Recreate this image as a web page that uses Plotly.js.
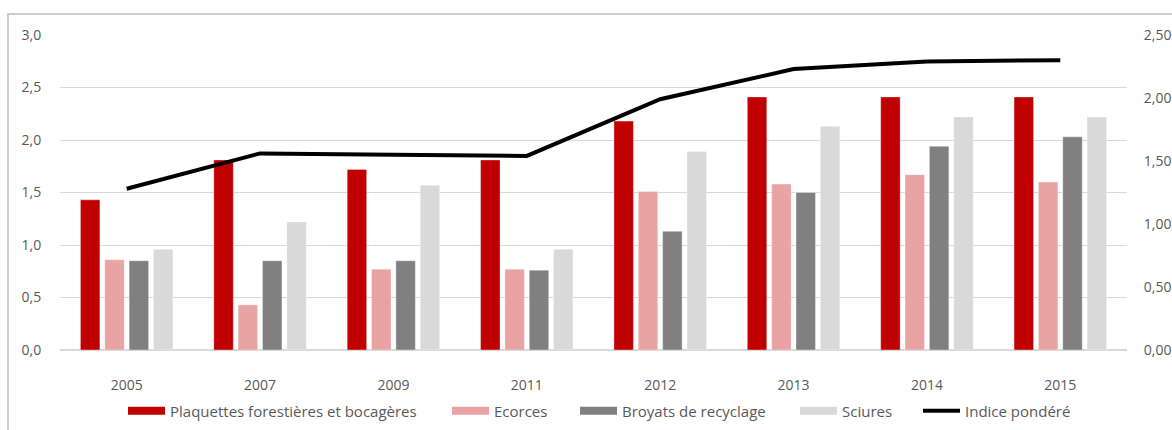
<!DOCTYPE html>
<html>
<head>
<meta charset="utf-8">
<script src="https://cdn.plot.ly/plotly-3.0.1.min.js"></script>
<style>html,body{margin:0;padding:0;background:#fff;}#chart{width:1172px;height:430px;}</style>
</head>
<body>
<div id="chart"></div>
<script>
const years = ["2005", "2007", "2009", "2011", "2012", "2013", "2014", "2015"];
const plaquettes = [1.43, 1.81, 1.72, 1.81, 2.18, 2.41, 2.41, 2.41];
const ecorces = [0.86, 0.43, 0.77, 0.77, 1.51, 1.58, 1.67, 1.60];
const broyats = [0.85, 0.85, 0.85, 0.76, 1.13, 1.50, 1.94, 2.03];
const sciures = [0.96, 1.22, 1.57, 0.96, 1.89, 2.13, 2.22, 2.22];
const indice = [1.28, 1.56, 1.55, 1.54, 1.99, 2.23, 2.29, 2.30];

const names = ["Plaquettes forestières et bocagères", "Ecorces", "Broyats de recyclage", "Sciures", "Indice pondéré"];
const colors = ["#c00000", "#e8a3a2", "#808080", "#d9d9d9", "#000000"];
const barSeries = [plaquettes, ecorces, broyats, sciures];

const traces = [];
barSeries.forEach((vals, i) => {
  traces.push({
    type: "bar", x: years, y: vals, name: names[i],
    marker: {color: colors[i], line: {color: "rgba(255,255,255,0.35)", width: 1}},
    showlegend: false, hoverinfo: "y"
  });
});
traces.push({
  type: "scatter", mode: "lines", x: years, y: indice, name: names[4], yaxis: "y2",
  line: {color: colors[4], width: 4}, showlegend: false
});

const font = {family: "Open Sans, sans-serif", size: 14, color: "#595959"};
const legFont = {family: "Open Sans, sans-serif", size: 15, color: "#595959"};
const pw = 1127 - 60, ph = 350 - 35;

// one legend per entry so each sits where the original puts it
const legendIds = ["legend", "legend2", "legend3", "legend4", "legend5"];
const swatchLeft = [128, 452, 580, 800, 923];
const swatchWidth = [8, 8, 8, 8, 4];
for (let i = 0; i < 5; i++) {
  traces.push({type: "scatter", mode: "lines", x: [null], y: [null], name: names[i],
    yaxis: i === 4 ? "y2" : "y",
    line: {color: colors[i], width: swatchWidth[i]}, legend: legendIds[i], showlegend: true, hoverinfo: "skip"});
}

const layout = {
  width: 1172, height: 430,
  margin: {l: 60, r: 45, t: 35, b: 80, pad: 0, autoexpand: false},
  paper_bgcolor: "#fff", plot_bgcolor: "#fff",
  font: font,
  separators: ", ",
  barmode: "group", bargap: 0.27, bargroupgap: 0.2,
  xaxis: {
    type: "category", showgrid: false, zeroline: false, showline: false,
    ticks: "outside", ticklen: 22, tickcolor: "rgba(0,0,0,0)",
    tickfont: font, fixedrange: true
  },
  yaxis: {
    range: [0, 3], dtick: 0.5, tickformat: ".1f",
    showgrid: true, gridcolor: "#d9d9d9", gridwidth: 1,
    zeroline: true, zerolinecolor: "#d9d9d9", zerolinewidth: 1.5, showline: false,
    ticks: "outside", ticklen: 15, tickcolor: "rgba(0,0,0,0)", tickfont: font, fixedrange: true
  },
  yaxis2: {
    overlaying: "y", side: "right", range: [0, 2.5], dtick: 0.5, tickformat: ".2f",
    showgrid: false, zeroline: false, showline: false,
    ticks: "outside", ticklen: 13, tickcolor: "rgba(0,0,0,0)", tickfont: font, fixedrange: true
  },
  shapes: [{
    type: "rect", xref: "paper", yref: "paper", layer: "below",
    x0: (8 - 60) / pw, x1: 1.2, y0: -0.5, y1: (350 - 14) / ph,
    line: {color: "#bfbfbf", width: 1.5}, fillcolor: "rgba(0,0,0,0)"
  }],
  showlegend: true
};
legendIds.forEach((id, i) => {
  layout[id] = {
    orientation: "h", xref: "container", yref: "container",
    x: (swatchLeft[i] - 5) / 1172, xanchor: "left",
    y: (430 - 411) / 430, yanchor: "middle",
    font: legFont, itemwidth: 37, bgcolor: "rgba(0,0,0,0)", borderwidth: 0
  };
});

Plotly.newPlot("chart", traces, layout, {displayModeBar: false, staticPlot: true});
</script>
</body>
</html>
